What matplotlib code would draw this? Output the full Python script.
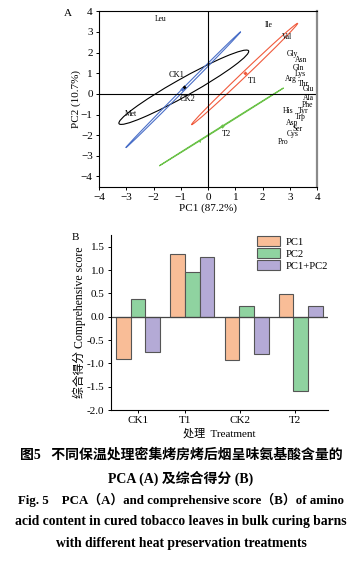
import numpy as np
import matplotlib
matplotlib.use("Agg")
import matplotlib.pyplot as plt
from matplotlib.patches import Ellipse

plt.rcParams['font.family'] = ['Liberation Serif', 'Noto Sans CJK SC']
plt.rcParams['axes.unicode_minus'] = True

# ---- panel A data (PCA) ----
amino_names = ['Leu', 'Ile', 'Val', 'Gly', 'Asn', 'Gln', 'Lys', 'Arg', 'Thr', 'Glu',
               'Ala', 'Phe', 'His', 'Tyr', 'Trp', 'Asp', 'Ser', 'Cys', 'Pro', 'Met']
amino_pc1 = [-1.74, 2.22, 2.90, 3.10, 3.42, 3.31, 3.39, 3.04, 3.50, 3.69,
             3.69, 3.66, 2.92, 3.50, 3.39, 3.10, 3.29, 3.12, 2.75, -2.82]
amino_pc2 = [3.62, 3.35, 2.74, 1.92, 1.62, 1.24, 0.97, 0.70, 0.50, 0.24,
             -0.21, -0.53, -0.85, -0.85, -1.13, -1.42, -1.69, -1.96, -2.33, -0.97]

groups = ['CK1', 'T1', 'CK2', 'T2']
group_colors = ['black', '#f05a3c', '#4a6fc8', '#6cc24a']
ell_cx = [-0.89, 1.34, -0.91, 0.49]
ell_cy = [0.32, 0.96, 0.20, -1.60]
ell_a = [2.96, 3.13, 3.51, 2.96]   # semi-major
ell_b = [0.39, 0.10, 0.05, 0.015]  # semi-minor
ell_ang = [36.8, 51.6, 53.1, 39.6]
score_pc1 = [-0.90, 1.35, -0.95, 0.50]
score_pc2 = [0.35, 1.00, 0.22, -1.55]
grp_lab_x = [-1.15, 1.64, -0.75, 0.69]
grp_lab_y = [0.93, 0.64, -0.26, -1.93]

# ---- panel B data (comprehensive score) ----
treatments = ['CK1', 'T1', 'CK2', 'T2']
pc1_score = [-0.91, 1.34, -0.93, 0.48]
pc2_score = [0.37, 0.96, 0.23, -1.59]
total_score = [-0.76, 1.29, -0.80, 0.24]
bar_colors = ['#f9bd97', '#8fd3a0', '#b4aad6']

fig = plt.figure(figsize=(3.62, 5.61), dpi=100)

# ---------------- Panel A ----------------
ax = fig.add_axes([0.2735, 0.667, 0.6025, 0.313])
for i in range(len(groups)):
    e = Ellipse((ell_cx[i], ell_cy[i]), 2 * ell_a[i], 2 * ell_b[i], angle=ell_ang[i],
                fill=False, edgecolor=group_colors[i], lw=0.8)
    ax.add_patch(e)
    ax.plot(score_pc1[i], score_pc2[i], marker='D', ms=2.2, color=group_colors[i], mec='none')
    ax.text(grp_lab_x[i], grp_lab_y[i], groups[i], fontsize=6, ha='center', va='center')
ax.plot(-0.35, -2.3, marker='<', ms=2, color=group_colors[3], mec='none')

for n, x, y in zip(amino_names, amino_pc1, amino_pc2):
    ax.text(x, y, n, fontsize=5.5, ha='center', va='center')

ax.axhline(0, color='black', lw=0.8)
ax.axvline(0, color='black', lw=0.8)
ax.set_xlim(-4, 4)
ax.set_ylim(-4.5, 4)
ax.set_xticks(np.arange(-4, 5, 1))
ax.set_yticks(np.arange(-4, 5, 1))
ax.tick_params(labelsize=8, length=2.5, width=0.7, pad=2)
for s in ['left', 'top', 'bottom']:
    ax.spines[s].set_linewidth(0.8)
ax.spines['right'].set_color('#8a8a8a')
ax.spines['right'].set_linewidth(1.6)
ax.set_xlabel('PC1 (87.2%)', fontsize=8, labelpad=1)
ax.set_ylabel('PC2 (10.7%)', fontsize=8, labelpad=0)
fig.text(68 / 362, 1 - 13 / 561, 'A', fontsize=8, ha='center', va='center')

# ---------------- Panel B ----------------
bx = fig.add_axes([0.306, 0.269, 0.600, 0.312])
xpos = np.arange(len(treatments))
w = 0.27
bx.bar(xpos - w, pc1_score, w, color=bar_colors[0], edgecolor='#555555', lw=0.8, label='PC1')
bx.bar(xpos, pc2_score, w, color=bar_colors[1], edgecolor='#555555', lw=0.8, label='PC2')
bx.bar(xpos + w, total_score, w, color=bar_colors[2], edgecolor='#555555', lw=0.8, label='PC1+PC2')
bx.axhline(0, color='#444444', lw=0.9)
bx.set_xlim(-0.5, 3.5)
bx.set_ylim(-2.0, 1.75)
bx.set_yticks(np.arange(-2.0, 1.51, 0.5))
bx.set_yticklabels(['%.1f' % v for v in np.arange(-2.0, 1.51, 0.5)])
bx.set_xticks([0, 0.87, 1.88, 2.89])
bx.set_xticklabels(treatments)
bx.tick_params(labelsize=8, length=2.5, width=0.7, pad=2)
bx.spines['top'].set_visible(False)
bx.spines['right'].set_visible(False)
bx.spines['left'].set_linewidth(0.8)
bx.spines['bottom'].set_linewidth(0.8)
bx.set_xlabel('处理  Treatment', fontsize=8, labelpad=2)
bx.set_ylabel('综合得分 Comprehensive score', fontsize=8.5, labelpad=1)
bx.legend(loc='upper left', bbox_to_anchor=(0.67, 1.0), frameon=False, fontsize=7.7,
          handlelength=2.1, handleheight=1.1, labelspacing=0.1, borderpad=0.1,
          borderaxespad=0, handletextpad=0.5)
fig.text(75 / 362, 1 - 237 / 561, 'B', fontsize=8, ha='center', va='center')

# ---------------- caption ----------------
cap = [
    (455, '图5   不同保温处理密集烤房烤后烟呈味氨基酸含量的', 10),
    (478, 'PCA (A) 及综合得分 (B)', 10),
    (500, 'Fig. 5    PCA（A）and comprehensive score（B）of amino', 9.3),
    (522, 'acid content in cured tobacco leaves in bulk curing barns', 9.8),
    (544, 'with different heat preservation treatments', 9.8),
]
for yy, t, fs in cap:
    fig.text(0.5, 1 - yy / 561, t, fontsize=fs, fontweight='bold', ha='center', va='center')

fig.savefig('out.png', dpi=100)
